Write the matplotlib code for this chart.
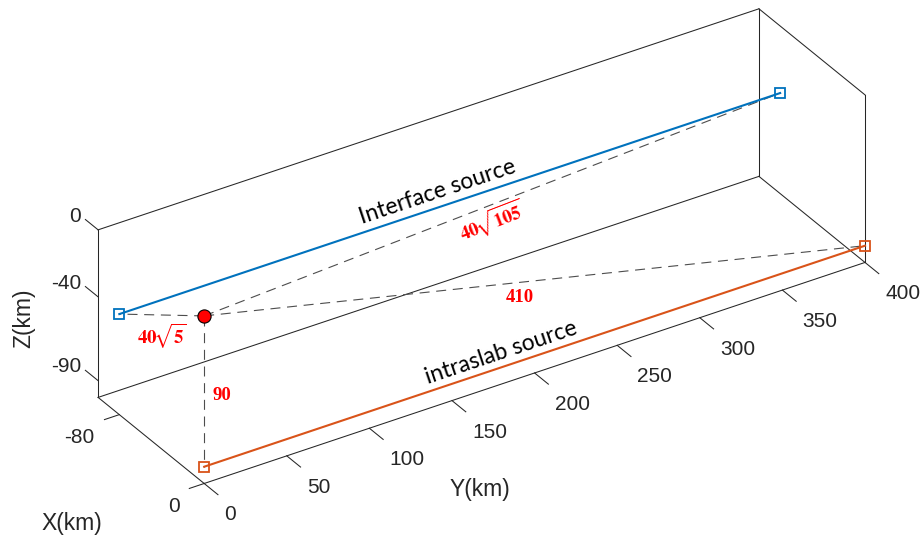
import matplotlib
matplotlib.use("Agg")
import math
import matplotlib.pyplot as plt
from mpl_toolkits.mplot3d import proj3d

plt.rcParams['mathtext.fontset'] = 'stix'

# axis limits and ticks (km)
x_lim = [-100, 0]
y_lim = [0, 400]
z_lim = [-100, 0]
x_ticks = [-80, 0]
y_ticks = [0, 50, 100, 150, 200, 250, 300, 350, 400]
z_ticks = [-90, -40, 0]

# sources: fixed x and z, running along y
interface_x = [-80, -80]
interface_y = [0, 400]
interface_z = [-40, -40]
intraslab_x = [0, 0]
intraslab_y = [0, 400]
intraslab_z = [-90, -90]

# site
site = [0, 0, 0]

# distance labels
dist_labels = [r'$\mathbf{40}\!\sqrt{\mathbf{5}}$', r'$\mathbf{40}\!\sqrt{\mathbf{105}}$', '410', '90']

blue = '#0072BD'
orange = '#D95319'
axcol = '#262626'

fig = plt.figure(figsize=(9.22, 5.37), dpi=100)
S = 922.0
ax = fig.add_axes([8.1 / 922, -182.6 / 537, S / 922, S / 537], projection='3d')
ax.set_proj_type('ortho')
ax.view_init(elev=31.4, azim=-32.7)
ax.set_xlim(x_lim)
ax.set_ylim(y_lim)
ax.set_zlim(z_lim)
ax.set_box_aspect((x_lim[1] - x_lim[0], y_lim[1] - y_lim[0], z_lim[1] - z_lim[0]), zoom=0.877)
ax.set_axis_off()
ax.computed_zorder = False

M = ax.get_proj()


def put(x, y, z, s, along=None, **kw):
    # place 2D text at the projected 3D point, optionally rotated along a 3D direction
    px, py, _ = proj3d.proj_transform(x, y, z, M)
    if along is not None:
        qx, qy, _ = proj3d.proj_transform(x + along[0], y + along[1], z + along[2], M)
        kw['rotation'] = math.degrees(math.atan2(qy - py, qx - px))
        kw['rotation_mode'] = 'anchor'
    return ax.text2D(px, py, s, transform=ax.transData, **kw)


x0, x1 = x_lim
y0, y1 = y_lim
z0, z1 = z_lim

# box (back planes, MATLAB style)
edges = [
    ([x0, x0], [y0, y0], [z0, z1]),
    ([x0, x0], [y0, y1], [z1, z1]),
    ([x0, x0], [y0, y1], [z0, z0]),
    ([x0, x0], [y1, y1], [z0, z1]),
    ([x0, x1], [y1, y1], [z1, z1]),
    ([x0, x1], [y1, y1], [z0, z0]),
    ([x1, x1], [y1, y1], [z0, z1]),
    ([x0, x1], [y0, y0], [z0, z0]),
    ([x1, x1], [y0, y1], [z0, z0]),
]
for ex, ey, ez in edges:
    ax.plot(ex, ey, ez, color=axcol, lw=0.75, zorder=1, clip_on=False)

tick_font = dict(family='Liberation Sans', fontsize=15, color=axcol)

# ticks
for xt in x_ticks:
    ax.plot([xt, xt], [y0, y0 - 9], [z0, z0], color=axcol, lw=0.75, clip_on=False)
    put(xt, y0 - 15, z0 - 9, str(xt), ha='right', va='center', **tick_font)
for yt in y_ticks:
    ax.plot([x1, x1 + 13], [yt, yt], [z0, z0], color=axcol, lw=0.75, clip_on=False)
    put(x1 + 19, yt, z0 - 9, str(yt), ha='left', va='center', **tick_font)
for zt in z_ticks:
    ax.plot([x0, x0 - 12], [y0, y0], [zt, zt], color=axcol, lw=0.75, clip_on=False)
    put(x0 - 16, y0, zt, str(zt), ha='right', va='center', **tick_font)

lab_font = dict(family='Liberation Sans', fontsize=16.5, color=axcol)
put(-50, -48, -134, 'X(km)', ha='center', va='center', **lab_font)
put(81, 115, -100, 'Y(km)', ha='center', va='center', **lab_font)
put(-170, 0, -89, 'Z(km)', along=(0, 0, 1), ha='center', va='center', **lab_font)

# dashed distance lines from site to source ends
ends = [
    (interface_x[0], interface_y[0], interface_z[0]),
    (interface_x[1], interface_y[1], interface_z[1]),
    (intraslab_x[1], intraslab_y[1], intraslab_z[1]),
    (intraslab_x[0], intraslab_y[0], intraslab_z[0]),
]
for e in ends:
    ax.plot([site[0], e[0]], [site[1], e[1]], [site[2], e[2]],
            color='#4d4d4d', lw=0.8, dashes=(9, 6), zorder=2, clip_on=False)

# sources
ax.plot(interface_x, interface_y, interface_z, '-s', color=blue, lw=1.5,
        ms=7.5, mfc='none', mew=1.3, zorder=3, clip_on=False)
ax.plot(intraslab_x, intraslab_y, intraslab_z, '-s', color=orange, lw=1.5,
        ms=7.5, mfc='none', mew=1.3, zorder=3, clip_on=False)
ax.plot([site[0]], [site[1]], [site[2]], 'o', color='red', ms=9.5, mec='black',
        mew=0.8, zorder=5, clip_on=False)

src_font = dict(family='Lato', fontsize=16.5, color='black')
put(-80, 194, -35, 'Interface source', along=(0, 1, 0), ha='center', va='baseline', **src_font)
put(0, 181, -85, 'intraslab source', along=(0, 1, 0), ha='center', va='baseline', **src_font)

red_font = dict(color='red', fontsize=13.5)
put(-40, 0, -32, dist_labels[0], ha='center', va='center', **red_font)
put(-40, 200, -30, dist_labels[1], along=(-80, 400, -40), ha='center', va='center', **red_font)
put(0, 191, -52, dist_labels[2], ha='center', va='center',
    family='Liberation Serif', weight='bold', **red_font)
put(0, 5, -49, dist_labels[3], ha='left', va='center',
    family='Liberation Serif', weight='bold', **red_font)

fig.savefig('out.png', dpi=100)
